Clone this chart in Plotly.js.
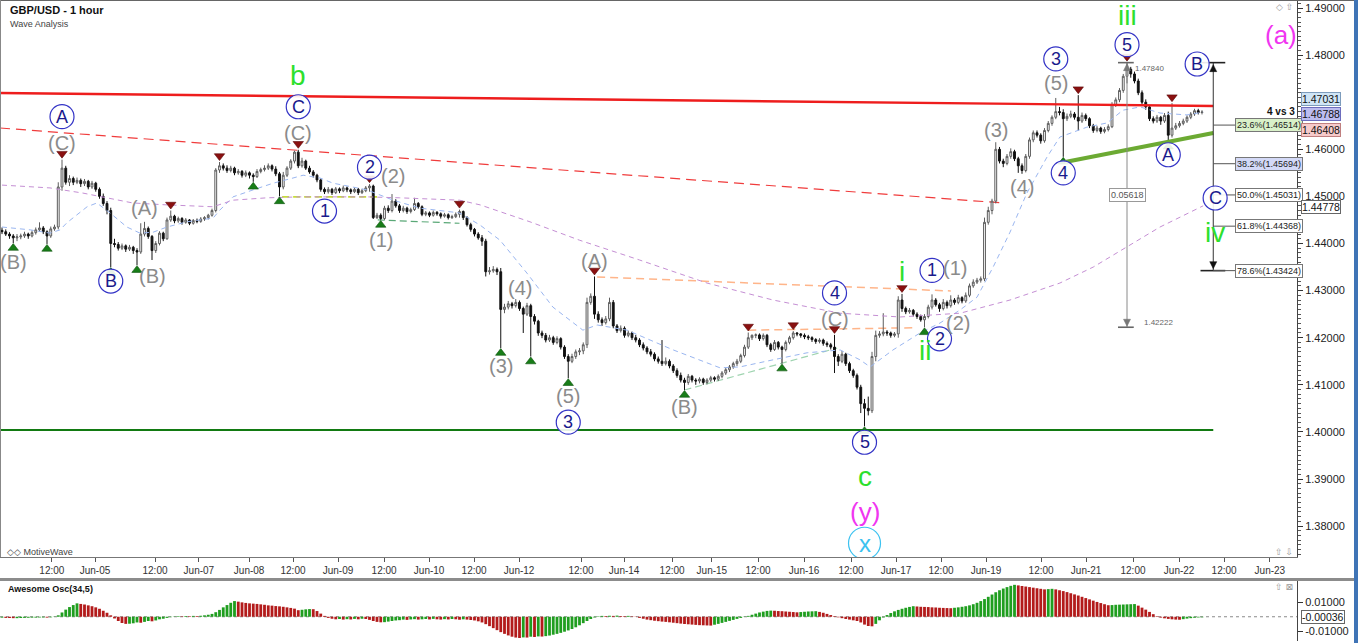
<!DOCTYPE html>
<html><head><meta charset="utf-8">
<script src="https://cdn.plot.ly/plotly-3.0.1.min.js"></script>
<style>html,body{margin:0;padding:0;background:#fff;overflow:hidden}#chart{width:1358px;height:643px}</style>
</head><body><div id="chart"></div>
<script>
// ===== DATA: GBP/USD 1 hour candles (bar index 0..320) =====
const open = [
1.4428,1.4425,1.4420,1.4416,1.4412,1.4414,1.4416,1.4420,1.4416,1.4423,
1.4429,1.4433,1.4425,1.4416,1.4431,1.4435,1.4520,1.4560,1.4530,1.4538,
1.4530,1.4534,1.4527,1.4532,1.4520,1.4528,1.4515,1.4500,1.4485,1.4470,
1.4400,1.4398,1.4390,1.4395,1.4388,1.4392,1.4385,1.4382,1.4420,1.4432,
1.4415,1.4385,1.4400,1.4422,1.4410,1.4450,1.4458,1.4448,1.4453,1.4445,
1.4450,1.4443,1.4449,1.4447,1.4452,1.4455,1.4460,1.4470,1.4556,1.4565,
1.4560,1.4555,1.4560,1.4550,1.4553,1.4545,1.4550,1.4545,1.4542,1.4553,
1.4557,1.4560,1.4565,1.4558,1.4548,1.4520,1.4545,1.4560,1.4575,1.4594,
1.4565,1.4575,1.4560,1.4552,1.4545,1.4535,1.4515,1.4510,1.4515,1.4508,
1.4516,1.4512,1.4518,1.4514,1.4510,1.4515,1.4508,1.4512,1.4518,1.4522,
1.4455,1.4460,1.4453,1.4475,1.4470,1.4490,1.4480,1.4470,1.4475,1.4468,
1.4472,1.4485,1.4478,1.4462,1.4465,1.4460,1.4466,1.4463,1.4458,1.4461,
1.4455,1.4457,1.4462,1.4468,1.4455,1.4440,1.4430,1.4420,1.4412,1.4405,
1.4340,1.4342,1.4345,1.4340,1.4260,1.4265,1.4272,1.4268,1.4275,1.4262,
1.4250,1.4268,1.4245,1.4235,1.4210,1.4205,1.4195,1.4200,1.4190,1.4198,
1.4180,1.4160,1.4150,1.4160,1.4170,1.4172,1.4185,1.4275,1.4288,1.4250,
1.4238,1.4232,1.4240,1.4275,1.4225,1.4215,1.4220,1.4205,1.4210,1.4200,
1.4195,1.4185,1.4178,1.4170,1.4165,1.4155,1.4150,1.4145,1.4150,1.4140,
1.4130,1.4120,1.4110,1.4105,1.4118,1.4110,1.4108,1.4112,1.4105,1.4110,
1.4115,1.4112,1.4118,1.4125,1.4132,1.4138,1.4145,1.4150,1.4162,1.4180,
1.4200,1.4205,1.4206,1.4198,1.4205,1.4185,1.4175,1.4190,1.4180,1.4175,
1.4190,1.4200,1.4210,1.4208,1.4205,1.4202,1.4200,1.4196,1.4192,1.4195,
1.4188,1.4185,1.4180,1.4160,1.4150,1.4165,1.4145,1.4130,1.4120,1.4095,
1.4060,1.4050,1.4045,1.4160,1.4205,1.4208,1.4212,1.4210,1.4205,1.4208,
1.4280,1.4262,1.4255,1.4258,1.4250,1.4245,1.4238,1.4245,1.4265,1.4280,
1.4270,1.4262,1.4275,1.4268,1.4280,1.4275,1.4285,1.4278,1.4290,1.4310,
1.4318,1.4322,1.4325,1.4445,1.4470,1.4490,1.4600,1.4575,1.4570,1.4585,
1.4595,1.4580,1.4565,1.4555,1.4585,1.4620,1.4635,1.4630,1.4618,1.4640,
1.4655,1.4668,1.4680,1.4678,1.4665,1.4670,1.4675,1.4668,1.4660,1.4672,
1.4665,1.4650,1.4640,1.4645,1.4638,1.4642,1.4648,1.4695,1.4705,1.4725,
1.4755,1.4770,1.4760,1.4745,1.4720,1.4700,1.4690,1.4665,1.4660,1.4668,
1.4660,1.4672,1.4630,1.4645,1.4650,1.4655,1.4660,1.4668,1.4675,1.4682,
1.4678];
const high = [
1.4434,1.4430,1.4424,1.4420,1.4420,1.4421,1.4425,1.4423,1.4428,1.4434,
1.4445,1.4437,1.4428,1.4436,1.4440,1.4530,1.4578,1.4565,1.4545,1.4542,
1.4540,1.4538,1.4537,1.4535,1.4533,1.4531,1.4519,1.4506,1.4490,1.4476,
1.4410,1.4403,1.4400,1.4398,1.4397,1.4395,1.4390,1.4443,1.4446,1.4436,
1.4418,1.4405,1.4426,1.4425,1.4455,1.4470,1.4461,1.4457,1.4456,1.4454,
1.4452,1.4452,1.4453,1.4456,1.4458,1.4463,1.4474,1.4560,1.4573,1.4570,
1.4566,1.4565,1.4563,1.4558,1.4556,1.4555,1.4553,1.4549,1.4558,1.4561,
1.4566,1.4570,1.4568,1.4564,1.4552,1.4552,1.4564,1.4579,1.4597,1.4599,
1.4582,1.4578,1.4565,1.4556,1.4548,1.4538,1.4519,1.4520,1.4518,1.4520,
1.4519,1.4523,1.4521,1.4517,1.4519,1.4518,1.4516,1.4522,1.4526,1.4525,
1.4465,1.4464,1.4480,1.4481,1.4505,1.4494,1.4484,1.4480,1.4478,1.4476,
1.4497,1.4488,1.4481,1.4469,1.4468,1.4470,1.4469,1.4466,1.4465,1.4464,
1.4461,1.4466,1.4472,1.4470,1.4458,1.4444,1.4433,1.4424,1.4418,1.4410,
1.4350,1.4352,1.4349,1.4348,1.4272,1.4278,1.4276,1.4282,1.4279,1.4266,
1.4274,1.4272,1.4250,1.4238,1.4215,1.4210,1.4206,1.4204,1.4203,1.4201,
1.4184,1.4165,1.4166,1.4175,1.4178,1.4190,1.4285,1.4294,1.4330,1.4256,
1.4243,1.4246,1.4285,1.4280,1.4229,1.4226,1.4224,1.4215,1.4213,1.4206,
1.4199,1.4190,1.4182,1.4176,1.4169,1.4160,1.4195,1.4158,1.4154,1.4144,
1.4135,1.4126,1.4115,1.4123,1.4121,1.4114,1.4116,1.4115,1.4114,1.4119,
1.4118,1.4122,1.4129,1.4136,1.4142,1.4149,1.4155,1.4166,1.4185,1.4211,
1.4207,1.4209,1.4209,1.4209,1.4208,1.4189,1.4195,1.4193,1.4183,1.4194,
1.4204,1.4214,1.4212,1.4210,1.4209,1.4206,1.4203,1.4199,1.4199,1.4198,
1.4192,1.4189,1.4206,1.4165,1.4172,1.4168,1.4149,1.4134,1.4124,1.4100,
1.4070,1.4075,1.4170,1.4215,1.4214,1.4252,1.4216,1.4213,1.4212,1.4288,
1.4293,1.4266,1.4263,1.4261,1.4254,1.4249,1.4250,1.4270,1.4292,1.4284,
1.4274,1.4282,1.4279,1.4290,1.4284,1.4291,1.4288,1.4296,1.4315,1.4324,
1.4327,1.4330,1.4455,1.4478,1.4495,1.4615,1.4605,1.4580,1.4590,1.4602,
1.4599,1.4584,1.4570,1.4590,1.4625,1.4640,1.4640,1.4634,1.4645,1.4660,
1.4672,1.4709,1.4690,1.4685,1.4676,1.4682,1.4679,1.4715,1.4678,1.4676,
1.4668,1.4654,1.4650,1.4648,1.4647,1.4653,1.4700,1.4710,1.4730,1.4760,
1.4784,1.4775,1.4765,1.4750,1.4725,1.4706,1.4694,1.4670,1.4673,1.4671,
1.4677,1.4680,1.4698,1.4656,1.4660,1.4665,1.4672,1.4679,1.4686,1.4686,
1.4683];
const low = [
1.4420,1.4416,1.4410,1.4401,1.4405,1.4409,1.4412,1.4410,1.4413,1.4419,
1.4425,1.4420,1.4399,1.4412,1.4427,1.4430,1.4512,1.4525,1.4522,1.4524,
1.4526,1.4520,1.4522,1.4515,1.4516,1.4510,1.4495,1.4480,1.4462,1.4350,
1.4392,1.4385,1.4386,1.4382,1.4384,1.4378,1.4354,1.4378,1.4415,1.4410,
1.4365,1.4380,1.4396,1.4405,1.4408,1.4446,1.4443,1.4444,1.4440,1.4442,
1.4439,1.4440,1.4443,1.4444,1.4448,1.4451,1.4457,1.4466,1.4550,1.4555,
1.4550,1.4551,1.4545,1.4546,1.4540,1.4541,1.4538,1.4531,1.4539,1.4549,
1.4553,1.4556,1.4553,1.4543,1.4500,1.4515,1.4541,1.4556,1.4570,1.4560,
1.4561,1.4556,1.4548,1.4540,1.4530,1.4510,1.4505,1.4506,1.4503,1.4505,
1.4507,1.4509,1.4509,1.4505,1.4507,1.4503,1.4505,1.4509,1.4510,1.4452,
1.4452,1.4450,1.4450,1.4465,1.4466,1.4476,1.4465,1.4466,1.4463,1.4464,
1.4469,1.4474,1.4458,1.4458,1.4456,1.4457,1.4459,1.4453,1.4455,1.4451,
1.4452,1.4454,1.4455,1.4450,1.4436,1.4425,1.4415,1.4408,1.4395,1.4330,
1.4334,1.4338,1.4333,1.4178,1.4252,1.4260,1.4262,1.4264,1.4257,1.4210,
1.4246,1.4160,1.4228,1.4204,1.4199,1.4190,1.4191,1.4185,1.4186,1.4175,
1.4155,1.4114,1.4146,1.4155,1.4163,1.4165,1.4178,1.4270,1.4240,1.4232,
1.4225,1.4228,1.4235,1.4220,1.4210,1.4211,1.4200,1.4201,1.4195,1.4190,
1.4180,1.4173,1.4165,1.4160,1.4150,1.4145,1.4140,1.4141,1.4135,1.4125,
1.4115,1.4105,1.4089,1.4100,1.4105,1.4100,1.4103,1.4100,1.4101,1.4106,
1.4107,1.4108,1.4114,1.4121,1.4127,1.4134,1.4140,1.4146,1.4158,1.4176,
1.4195,1.4199,1.4193,1.4194,1.4180,1.4170,1.4172,1.4175,1.4145,1.4171,
1.4186,1.4196,1.4203,1.4200,1.4197,1.4195,1.4191,1.4187,1.4188,1.4183,
1.4180,1.4175,1.4125,1.4140,1.4146,1.4140,1.4125,1.4115,1.4090,1.4040,
1.4012,1.4035,1.4040,1.4150,1.4200,1.4203,1.4204,1.4200,1.4201,1.4200,
1.4255,1.4250,1.4251,1.4245,1.4240,1.4234,1.4222,1.4241,1.4260,1.4266,
1.4255,1.4258,1.4262,1.4264,1.4270,1.4271,1.4273,1.4274,1.4286,1.4306,
1.4314,1.4317,1.4320,1.4440,1.4462,1.4485,1.4570,1.4562,1.4566,1.4580,
1.4575,1.4550,1.4548,1.4551,1.4580,1.4615,1.4625,1.4612,1.4614,1.4636,
1.4650,1.4664,1.4672,1.4584,1.4660,1.4666,1.4663,1.4640,1.4656,1.4660,
1.4645,1.4635,1.4636,1.4633,1.4634,1.4638,1.4645,1.4690,1.4700,1.4720,
1.4740,1.4752,1.4740,1.4715,1.4695,1.4684,1.4660,1.4655,1.4656,1.4652,
1.4656,1.4616,1.4625,1.4641,1.4646,1.4651,1.4656,1.4664,1.4671,1.4674,
1.4674];
const close = [
1.4425,1.4420,1.4416,1.4412,1.4414,1.4416,1.4420,1.4416,1.4423,1.4429,
1.4433,1.4425,1.4416,1.4431,1.4435,1.4520,1.4560,1.4530,1.4538,1.4530,
1.4534,1.4527,1.4532,1.4520,1.4528,1.4515,1.4500,1.4485,1.4470,1.4400,
1.4398,1.4390,1.4395,1.4388,1.4392,1.4385,1.4382,1.4420,1.4432,1.4415,
1.4385,1.4400,1.4422,1.4410,1.4450,1.4458,1.4448,1.4453,1.4445,1.4450,
1.4443,1.4449,1.4447,1.4452,1.4455,1.4460,1.4470,1.4556,1.4565,1.4560,
1.4555,1.4560,1.4550,1.4553,1.4545,1.4550,1.4545,1.4542,1.4553,1.4557,
1.4560,1.4565,1.4558,1.4548,1.4520,1.4545,1.4560,1.4575,1.4594,1.4565,
1.4575,1.4560,1.4552,1.4545,1.4535,1.4515,1.4510,1.4515,1.4508,1.4516,
1.4512,1.4518,1.4514,1.4510,1.4515,1.4508,1.4512,1.4518,1.4522,1.4455,
1.4460,1.4453,1.4475,1.4470,1.4490,1.4480,1.4470,1.4475,1.4468,1.4472,
1.4485,1.4478,1.4462,1.4465,1.4460,1.4466,1.4463,1.4458,1.4461,1.4455,
1.4457,1.4462,1.4468,1.4455,1.4440,1.4430,1.4420,1.4412,1.4405,1.4340,
1.4342,1.4345,1.4340,1.4260,1.4265,1.4272,1.4268,1.4275,1.4262,1.4250,
1.4268,1.4245,1.4235,1.4210,1.4205,1.4195,1.4200,1.4190,1.4198,1.4180,
1.4160,1.4150,1.4160,1.4170,1.4172,1.4185,1.4275,1.4288,1.4250,1.4238,
1.4232,1.4240,1.4275,1.4225,1.4215,1.4220,1.4205,1.4210,1.4200,1.4195,
1.4185,1.4178,1.4170,1.4165,1.4155,1.4150,1.4145,1.4150,1.4140,1.4130,
1.4120,1.4110,1.4105,1.4118,1.4110,1.4108,1.4112,1.4105,1.4110,1.4115,
1.4112,1.4118,1.4125,1.4132,1.4138,1.4145,1.4150,1.4162,1.4180,1.4200,
1.4205,1.4206,1.4198,1.4205,1.4185,1.4175,1.4190,1.4180,1.4175,1.4190,
1.4200,1.4210,1.4208,1.4205,1.4202,1.4200,1.4196,1.4192,1.4195,1.4188,
1.4185,1.4180,1.4160,1.4150,1.4165,1.4145,1.4130,1.4120,1.4095,1.4060,
1.4050,1.4045,1.4160,1.4205,1.4208,1.4212,1.4210,1.4205,1.4208,1.4280,
1.4262,1.4255,1.4258,1.4250,1.4245,1.4238,1.4245,1.4265,1.4280,1.4270,
1.4262,1.4275,1.4268,1.4280,1.4275,1.4285,1.4278,1.4290,1.4310,1.4318,
1.4322,1.4325,1.4445,1.4470,1.4490,1.4600,1.4575,1.4570,1.4585,1.4595,
1.4580,1.4565,1.4555,1.4585,1.4620,1.4635,1.4630,1.4618,1.4640,1.4655,
1.4668,1.4680,1.4678,1.4665,1.4670,1.4675,1.4668,1.4660,1.4672,1.4665,
1.4650,1.4640,1.4645,1.4638,1.4642,1.4648,1.4695,1.4705,1.4725,1.4755,
1.4770,1.4760,1.4745,1.4720,1.4700,1.4690,1.4665,1.4660,1.4668,1.4660,
1.4672,1.4630,1.4645,1.4650,1.4655,1.4660,1.4668,1.4675,1.4682,1.4678,
1.4679];

// Awesome Oscillator (34,5), one value per candle
const ao = [
-0.0006,-0.0008,-0.0009,-0.0010,-0.0010,-0.0009,-0.0008,-0.0007,-0.0006,-0.0006,-0.0005,-0.0005,-0.0006,-0.0004,-0.0002,
0.0010,0.0030,0.0050,0.0068,0.0082,0.0094,
0.0090,0.0086,0.0080,0.0074,0.0066,0.0056,0.0042,0.0028,0.0010,
-0.0012,-0.0030,-0.0044,-0.0050,
-0.0049,-0.0046,-0.0040,-0.0042,-0.0036,-0.0030,-0.0032,-0.0026,-0.0018,-0.0014,-0.0008,-0.0003,
0.0002,0.0004,0.0003,0.0005,0.0004,0.0006,0.0005,0.0007,0.0010,0.0014,0.0020,
0.0032,0.0048,0.0066,0.0082,0.0098,0.0110,
0.0106,0.0101,0.0097,0.0094,0.0092,0.0090,0.0087,0.0084,0.0080,0.0078,0.0075,0.0073,0.0070,0.0066,0.0062,0.0057,
0.0046,0.0049,0.0052,0.0054,0.0053,
0.0040,0.0022,0.0006,
-0.0008,-0.0014,-0.0018,-0.0016,-0.0020,-0.0017,-0.0019,-0.0015,-0.0018,-0.0014,-0.0016,-0.0022,-0.0030,
-0.0036,-0.0039,-0.0038,-0.0034,-0.0030,
-0.0026,-0.0024,-0.0020,-0.0022,-0.0019,-0.0017,-0.0020,-0.0018,-0.0016,-0.0019,-0.0015,-0.0018,-0.0020,-0.0017,-0.0019,-0.0016,-0.0018,-0.0021,-0.0018,-0.0020,-0.0023,-0.0026,
-0.0032,-0.0040,-0.0052,-0.0066,-0.0080,-0.0094,-0.0108,-0.0120,-0.0131,-0.0140,-0.0146,-0.0149,
-0.0145,-0.0146,-0.0140,-0.0142,-0.0138,-0.0139,-0.0136,-0.0132,
-0.0126,-0.0120,-0.0113,-0.0105,-0.0096,-0.0086,-0.0074,-0.0060,-0.0045,-0.0030,-0.0016,-0.0005,0.0003,
0.0006,0.0005,0.0007,0.0006,0.0008,0.0005,0.0004,0.0006,0.0003,
-0.0002,-0.0008,-0.0014,-0.0020,-0.0024,-0.0028,-0.0031,-0.0034,-0.0036,-0.0039,-0.0042,-0.0045,
-0.0048,-0.0051,-0.0053,-0.0055,-0.0057,-0.0059,-0.0060,-0.0061,-0.0062,
-0.0056,-0.0050,-0.0043,-0.0036,-0.0029,-0.0022,-0.0015,-0.0008,-0.0002,
0.0006,0.0014,0.0022,0.0030,0.0036,0.0041,0.0043,
0.0042,0.0040,0.0039,0.0037,0.0035,0.0033,0.0031,
0.0033,0.0035,0.0037,0.0038,0.0039,
0.0034,0.0028,0.0020,0.0012,0.0004,
-0.0004,-0.0010,-0.0016,-0.0020,-0.0025,-0.0030,-0.0040,
-0.0055,-0.0065,-0.0067,
-0.0050,-0.0025,
-0.0005,0.0012,0.0026,0.0038,0.0048,0.0056,0.0063,0.0069,0.0074,
0.0072,0.0070,0.0069,0.0068,0.0066,0.0065,0.0063,0.0062,0.0061,0.0060,
0.0063,0.0066,0.0070,0.0074,0.0080,0.0088,
0.0098,0.0110,0.0124,0.0140,0.0156,0.0172,0.0186,0.0198,0.0208,0.0217,0.0224,
0.0220,0.0216,0.0212,0.0208,0.0204,0.0200,0.0196,0.0192,
0.0194,0.0196,
0.0192,0.0186,0.0180,0.0173,0.0165,0.0157,0.0149,0.0140,0.0131,0.0122,0.0113,0.0104,0.0096,0.0088,0.0081,
0.0082,0.0084,0.0085,0.0086,0.0087,0.0088,0.0089,
0.0078,0.0064,0.0050,0.0034,0.0018,0.0004,
-0.0006,-0.0011,-0.0015,-0.0018,-0.0020,-0.0021,
-0.0017,-0.0013,-0.0010,-0.0007,-0.0005,-0.0004];

// Moving averages (bar index, price)
const blueMaBars = [0,7.5,12.8,15.5,17.3,22.7,25.3,28.8,33.3,36.8,40.3,44,49.3,56.3,58.1,61.6,67,72.3,77.6,80.3,84.8,88.3,97.3,104.3,111.5,122,127.5,132.8,140,146.9,154.9,158.7,166.7,179,191.5,196.8,205.6,214.7,223.5,228.8,231.5,237.6,244.8,250.1,255.5,260,264.3,268.8,273.3,278.7,282.1,289.3,294.7,298.9,303.5,308.8,316,320.3];
const blueMaVals = [1.4435,1.4429,1.4422,1.4429,1.4444,1.4478,1.4486,1.4465,1.4435,1.4422,1.4424,1.4435,1.4446,1.4454,1.4471,1.4499,1.4514,1.4528,1.4539,1.4545,1.4539,1.4528,1.4514,1.4492,1.4475,1.4465,1.4439,1.4407,1.4337,1.4265,1.4216,1.4227,1.4216,1.4174,1.4136,1.4138,1.4153,1.4168,1.4174,1.4153,1.4138,1.4174,1.4210,1.4231,1.4259,1.4286,1.4350,1.4424,1.4507,1.4584,1.4626,1.4647,1.4656,1.4683,1.4690,1.4677,1.4673,1.4679];
const purpleMaBars = [0,12.8,21.6,34.9,44,56.3,61.6,70.7,79.5,97.3,106,122,127.5,140.8,154,170,188,205.6,223.5,239.5,255.5,268.8,282.1,291,300,308.8,320.3];
const purpleMaVals = [1.4524,1.4518,1.4507,1.4486,1.4482,1.4478,1.4492,1.4497,1.4499,1.4499,1.4497,1.4492,1.4482,1.4446,1.4407,1.4365,1.4316,1.4280,1.4252,1.4244,1.4252,1.4280,1.4316,1.4350,1.4393,1.4435,1.4480];

// Time axis labels (bar position of each label)
const tickBars = [13.3,24.8,40.8,52.5,65.9,77.6,89.6,101.9,113.9,125.9,137.9,154.4,165.9,178.7,189.3,201.6,213.9,226.4,238.4,250.4,262.4,277.1,289.1,301.6,313.9,325.9,338.1];
const tickLabels = ['12:00','Jun-05','12:00','Jun-07','Jun-08','12:00','Jun-09','12:00','Jun-10','12:00','Jun-12','12:00','Jun-14','12:00','Jun-15','12:00','Jun-16','12:00','Jun-17','12:00','Jun-19','12:00','Jun-21','12:00','Jun-22','12:00','Jun-23'];
// Price axis labels (1.47000 is hidden behind the value tags in the reference)
const priceTicks = [1.38,1.39,1.40,1.41,1.42,1.43,1.44,1.45,1.46,1.48,1.49];

// Swing markers
const swingHighBars = [16,45,58,79,98,122,158,199,211,222,240,287,300,312];
const swingLowBars = [3,12,29,36,67,74,101,133,141,151,182,208,230,246,283,311];

// Drawn trend lines: [bar0, price0, bar1, price1]
const redLine = [-0.53, 1.47195, 323, 1.46919];
const redDashLine = [-0.53, 1.46452, 266.9, 1.44860];
const greenLine = [-0.53, 1.40041, 323, 1.40041];
const olivLine = [283.5, 1.45730, 323, 1.46346];
const limeDash = [74.7, 1.4499, 100, 1.4499];
const greenDash = [100.2, 1.4450, 122, 1.4443];
const orangeDash1 = [158.7, 1.4329, 253, 1.42992];
const orangeDash2 = [199, 1.4216, 243, 1.4221];
const paleGreenDash = [182, 1.4089, 222.7, 1.4178];

// Measure tool & Fibonacci tool
const measureTop = 1.47840, measureBottom = 1.42222, measureSpan = '0.05618';
const fibLevels = [23.6, 38.2, 50.0, 61.8, 78.6];
const fibPrices = [1.46514, 1.45694, 1.45031, 1.44368, 1.43424];
const axisTags = [1.47031, 1.46788, 1.46408, 1.44778];
const aoTag = -0.00036;

// Wave labels: [text, bar, 'H'|'L', style]
const waveLabels = [
 ['(B)',3,'L','g'],['(C)',16,'H','g'],['A',16,'H','c'],['B',29,'L','c'],['(A)',38,'H','g'],['(B)',40,'L','g'],
 ['b',79,'H','G'],['C',79,'H','c'],['(C)',79,'H','g'],['1',86,'L','c'],['2',98,'H','c'],['(2)',98,'H','g'],
 ['(1)',101,'L','g'],['(3)',133,'L','g'],['(4)',138,'H','g'],['(5)',151,'L','g'],['3',151,'L','c'],['(A)',158,'H','g'],
 ['(B)',182,'L','g'],['(C)',222,'H','g'],['4',222,'H','c'],['5',230,'L','c'],['c',230,'L','G'],['(y)',230,'L','m'],
 ['x',230,'L','x'],['i',240,'H','G'],['1',248,'H','c'],['(1)',254,'H','g'],['ii',246,'L','G'],['2',250,'L','c'],
 ['(2)',255,'L','g'],['(3)',265,'H','g'],['(4)',272,'L','g'],['3',281,'H','c'],['(5)',281,'H','g'],['4',283,'L','c'],
 ['iii',300,'H','G'],['5',300,'H','c'],['A',311,'L','c']
];
// pixel offsets of each wave label from its bar's high/low
const waveOffsets = [
 [0,-19],[0,17],[0,43],[0,-14],[0,14],[0,-16],
 [0,74],[0,43],[0,17],[0,-17],[0,17],[23,8],
 [0,-20],[0,-18],[0,12],[0,-18],[0,-44],[0,15],
 [0,-17],[0,16],[0,42],[0,-16],[0,-50],[0,-86],
 [0,-117],[0,22],[0,24],[0,30],[0,-23],[0,-27],
 [0,-19],[0,12],[0,-13],[0,39],[0,15],[0,-16],
 [0,47],[0,18],[0,-13]
];
// labels in the projected area: [text, bar, price, style]
const freeLabels = [['B',318.7,1.47811,'c'],['C',323.5,1.44966,'c'],['iv',323.5,1.44244,'G'],['(a)',341.1,1.48427,'m']];

// ===== CHART =====
const FONT = '"Liberation Sans", Arial, sans-serif';
const bars = close.map((_, i) => i);
const aoColors = ao.map((v, i) => (i === 0 || v >= ao[i - 1]) ? '#1f9e1f' : '#b31b1b');
const XR = [-0.533, 345.33];
const PX = 1 / 4710;            // one screen pixel in price units on the main pane

const traces = [
 {type:'scatter', mode:'lines', x:blueMaBars, y:blueMaVals, xaxis:'x', yaxis:'y',
  line:{color:'#9ab6f0', width:1, dash:'5px,4px'}, hoverinfo:'skip'},
 {type:'scatter', mode:'lines', x:purpleMaBars, y:purpleMaVals, xaxis:'x', yaxis:'y',
  line:{color:'#c58fd4', width:1, dash:'5px,4px'}, hoverinfo:'skip'},
 {type:'candlestick', x:bars, open:open, high:high, low:low, close:close, xaxis:'x', yaxis:'y',
  increasing:{line:{color:'#5c5c5c', width:1}, fillcolor:'#ffffff'},
  decreasing:{line:{color:'#111111', width:1}, fillcolor:'#111111'},
  whiskerwidth:0, hoverinfo:'skip'},
 {type:'scatter', mode:'markers', x:swingHighBars, y:swingHighBars.map(b => high[b] + 6 * PX), xaxis:'x', yaxis:'y',
  marker:{symbol:'triangle-down', size:9, color:'#8a1010', line:{color:'#5a0808', width:0.6}}, hoverinfo:'skip'},
 {type:'scatter', mode:'markers', x:swingLowBars, y:swingLowBars.map(b => low[b] - 5 * PX), xaxis:'x', yaxis:'y',
  marker:{symbol:'triangle-up', size:9, color:'#187d18', line:{color:'#0c520c', width:0.6}}, hoverinfo:'skip'},
 {type:'bar', x:bars, y:ao, xaxis:'x2', yaxis:'y2', marker:{color:aoColors, line:{width:0}}, hoverinfo:'skip'}
];

const shapes = [];
function seg(a, color, width, dash, layer) {
  shapes.push({type:'line', xref:'x', yref:'y', x0:a[0], y0:a[1], x1:a[2], y1:a[3],
    line:{color:color, width:width, dash:dash || 'solid'}, layer:layer || 'above'});
}
seg(redDashLine, '#f03c3c', 1.2, '10px,6px', 'below');
seg(limeDash, '#c6dc3a', 1.6, '7px,4px', 'below');
seg(greenDash, '#5aa877', 1.2, '7px,4px', 'below');
seg(orangeDash1, '#ffb58a', 1.5, '8px,5px', 'below');
seg(orangeDash2, '#ffb58a', 1.5, '8px,5px', 'below');
seg(paleGreenDash, '#9fd4b0', 1.2, '7px,4px', 'below');
seg(redLine, '#ee1d1d', 2.4);
seg(greenLine, '#127a12', 2);
seg(olivLine, '#6caa33', 4);
// measurement tool
seg([300, measureTop, 300, measureBottom], '#8a8a8a', 1);
seg([297.6, measureTop, 301.8, measureTop], '#666', 1.6);
seg([297.6, measureBottom, 301.8, measureBottom], '#666', 1.6);
// fib tool
seg([323, measureTop, 323, fibPrices[4]], '#333', 1);
seg([319.6, measureTop, 326.2, measureTop], '#222', 1.6);
seg([319.6, fibPrices[4], 326.2, fibPrices[4]], '#222', 1.6);
fibPrices.forEach(p => seg([323, p, 328.8, p], '#555', 1));
// oscillator zero line
shapes.push({type:'line', xref:'x2', yref:'y2', x0:XR[0], x1:XR[1], y0:0, y1:0, line:{color:'#8a8a8a', width:1, dash:'dot'}, layer:'below'});
// frame pieces (paper)
const yPix = px => (641 - px) / 640;
const xPix = px => px / 1297;
shapes.push({type:'line', xref:'paper', yref:'paper', x0:0, x1:xPix(1358), y0:yPix(0.5), y1:yPix(0.5), line:{color:'#666', width:1}});
shapes.push({type:'line', xref:'paper', yref:'paper', x0:xPix(0.5), x1:xPix(0.5), y0:yPix(557), y1:yPix(0), line:{color:'#888', width:1}});
shapes.push({type:'rect', xref:'paper', yref:'paper', x0:0, x1:xPix(1358), y0:yPix(581), y1:yPix(578), fillcolor:'#8c8c8c', line:{width:0}});
shapes.push({type:'rect', xref:'paper', yref:'paper', x0:xPix(1354), x1:xPix(1358), y0:yPix(643), y1:yPix(0), fillcolor:'#3f74b6', line:{width:0}});
// measure / fib arrow heads (small triangles)
[[300, measureTop, -4, 'up', '#777'], [300, measureBottom, 4, 'down', '#777'],
 [323, measureTop, -5, 'up', '#111'], [323, fibPrices[4], 5, 'down', '#111']].forEach(a => {
  const s = a[3] === 'up' ? 1 : -1;
  shapes.push({type:'path', xref:'x', yref:'y', xsizemode:'pixel', ysizemode:'pixel', xanchor:a[0], yanchor:a[1],
    path:`M -3.5 ${a[2] - 4 * s} L 3.5 ${a[2] - 4 * s} L 0 ${a[2] + 3 * s} Z`, fillcolor:a[4], line:{color:a[4], width:0.5}});
});

const styles = {
  g:{size:20, color:'#8b8b8b'},
  c:{size:18, color:'#1a1a8c', ring:'#3333c6', r:12},
  G:{size:28, color:'#2de02d'},
  m:{size:26, color:'#f035f0'},
  x:{size:24, color:'#3cc2f0', ring:'#3cc2f0', r:16}
};
const annotations = [];
function addLabel(text, x, y, dx, dy, st) {
  const s = styles[st];
  annotations.push({xref:'x', yref:'y', x:x, y:y, xshift:dx, yshift:dy, text:text, showarrow:false,
    xanchor:'center', yanchor:'middle', font:{family:FONT, size:s.size, color:s.color}});
  if (s.ring) {
    shapes.push({type:'circle', xref:'x', yref:'y', xsizemode:'pixel', ysizemode:'pixel', xanchor:x, yanchor:y,
      x0:dx - s.r, x1:dx + s.r, y0:dy - s.r, y1:dy + s.r, line:{color:s.ring, width:1.2},
      fillcolor:'rgba(255,255,255,0.9)', layer:'above'});
  }
}
waveLabels.forEach((w, k) => {
  const y = w[2] === 'H' ? high[w[1]] : low[w[1]];
  addLabel(w[0], w[1], y, waveOffsets[k][0], waveOffsets[k][1], w[3]);
});
freeLabels.forEach(f => addLabel(f[0], f[1], f[2], 0, 0, f[3]));

function txt(o) { annotations.push(Object.assign({showarrow:false}, o)); }
// titles
txt({xref:'paper', yref:'paper', x:xPix(8), y:yPix(10), xanchor:'left', yanchor:'middle', text:'<b>GBP/USD - 1 hour</b>', font:{family:FONT, size:11, color:'#111'}});
txt({xref:'paper', yref:'paper', x:xPix(8), y:yPix(24), xanchor:'left', yanchor:'middle', text:'Wave Analysis', font:{family:FONT, size:9, color:'#444'}});
txt({xref:'paper', yref:'paper', x:xPix(5), y:yPix(552), xanchor:'left', yanchor:'middle', text:'◇◇ MotiveWave', font:{family:FONT, size:9, color:'#444'}});
txt({xref:'paper', yref:'paper', x:xPix(6), y:yPix(589), xanchor:'left', yanchor:'middle', text:'<b>Awesome Osc(34,5)</b>', font:{family:FONT, size:9, color:'#111'}});
// pane control icons
txt({xref:'paper', yref:'paper', x:xPix(1295), y:yPix(7), xanchor:'right', yanchor:'middle', text:'◇ ⇧', font:{family:'DejaVu Sans', size:9, color:'#9a9a9a'}});
txt({xref:'paper', yref:'paper', x:xPix(1295), y:yPix(552), xanchor:'right', yanchor:'middle', text:'⇧ ⇩', font:{family:'DejaVu Sans', size:9, color:'#9a9a9a'}});
txt({xref:'paper', yref:'paper', x:xPix(1295), y:yPix(587), xanchor:'right', yanchor:'middle', text:'⇧ ⊠', font:{family:'DejaVu Sans', size:9, color:'#9a9a9a'}});
// measure tool texts
txt({xref:'x', yref:'y', x:301.6, y:measureTop, yshift:-6, xanchor:'left', text:measureTop.toFixed(5), font:{family:FONT, size:8, color:'#666'}});
txt({xref:'x', yref:'y', x:304, y:measureBottom, yshift:5, xanchor:'left', text:measureBottom.toFixed(5), font:{family:FONT, size:8, color:'#666'}});
txt({xref:'x', yref:'y', x:300, y:1.4503, text:measureSpan, bgcolor:'#ffffff', bordercolor:'#999', borderwidth:1, borderpad:1, font:{family:FONT, size:9, color:'#555'}});
// fib tool texts
const fibBg = ['#d9f1c9', '#d3d9f7', '#ffffff', '#ffffff', '#ffffff'];
fibLevels.forEach((l, k) => txt({xref:'x', yref:'y', x:328.8, y:fibPrices[k], xanchor:'left',
  text:l.toFixed(1) + '%(' + fibPrices[k].toFixed(5) + ')', bgcolor:fibBg[k], bordercolor:'#777', borderwidth:1, borderpad:1,
  font:{family:FONT, size:9, color:'#222'}}));
txt({xref:'x', yref:'y', x:341.1, y:1.46813, text:'<b>4 vs 3</b>', font:{family:FONT, size:10, color:'#111'}});
// axis value tags
const tagBg = ['#cfe5f6', '#bcbcf0', '#f6caca', '#ffffff'];
const tagBd = ['#7d9cbc', '#6d6dbd', '#c07f7f', '#666666'];
const tagNudge = [1.5, -1.5, 0, 0];
axisTags.forEach((v, k) => txt({xref:'paper', yref:'y', x:1, xshift:4, xanchor:'left', y:v, yshift:tagNudge[k], text:v.toFixed(5),
  bgcolor:tagBg[k], bordercolor:tagBd[k], borderwidth:1, borderpad:0, font:{family:FONT, size:10.5, color:'#111'}}));
txt({xref:'paper', yref:'y2', x:1, xshift:4, xanchor:'left', y:aoTag, text:aoTag.toFixed(5),
  bgcolor:'#ffffff', bordercolor:'#666', borderwidth:1, borderpad:0, font:{family:FONT, size:10.5, color:'#111'}});

const layout = {
  width:1358, height:643, margin:{l:0, r:61, t:1, b:2, pad:0},
  paper_bgcolor:'#ffffff', plot_bgcolor:'#ffffff', showlegend:false, bargap:0.25,
  font:{family:FONT, size:10, color:'#222'},
  xaxis:{domain:[0,1], anchor:'y', range:XR, tickmode:'array', tickvals:tickBars, ticktext:tickLabels,
    ticks:'outside', ticklen:4, tickcolor:'#555', showline:true, linecolor:'#777', linewidth:1,
    tickfont:{family:FONT, size:10, color:'#333'}, showgrid:false, zeroline:false, rangeslider:{visible:false}, fixedrange:true},
  xaxis2:{domain:[0,1], anchor:'y2', matches:'x', showticklabels:false, ticks:'', showgrid:false, zeroline:false, showline:false},
  yaxis:{domain:[yPix(557), 1], range:[1.37344, 1.491486], side:'right', tickmode:'array', tickvals:priceTicks,
    ticktext:priceTicks.map(v => v.toFixed(5)),
    ticks:'outside', ticklen:5, tickcolor:'#333', showline:true, linecolor:'#444', linewidth:1,
    minor:{tickmode:'linear', tick0:1.37, dtick:0.001, ticks:'outside', ticklen:3, tickcolor:'#555', showgrid:false},
    tickfont:{family:FONT, size:11, color:'#222'}, showgrid:false, zeroline:false, fixedrange:true},
  yaxis2:{domain:[0, yPix(581)], range:[-0.01702, 0.02509], side:'right', tickmode:'array', tickvals:[0.01,-0.01],
    ticktext:['0.01000','-0.01000'], ticks:'outside', ticklen:5, tickcolor:'#333', showline:true, linecolor:'#444',
    tickfont:{family:FONT, size:11, color:'#222'}, showgrid:false, zeroline:false, fixedrange:true},
  shapes:shapes, annotations:annotations
};
Plotly.newPlot('chart', traces, layout, {staticPlot:true, displayModeBar:false});
</script>
</body></html>
